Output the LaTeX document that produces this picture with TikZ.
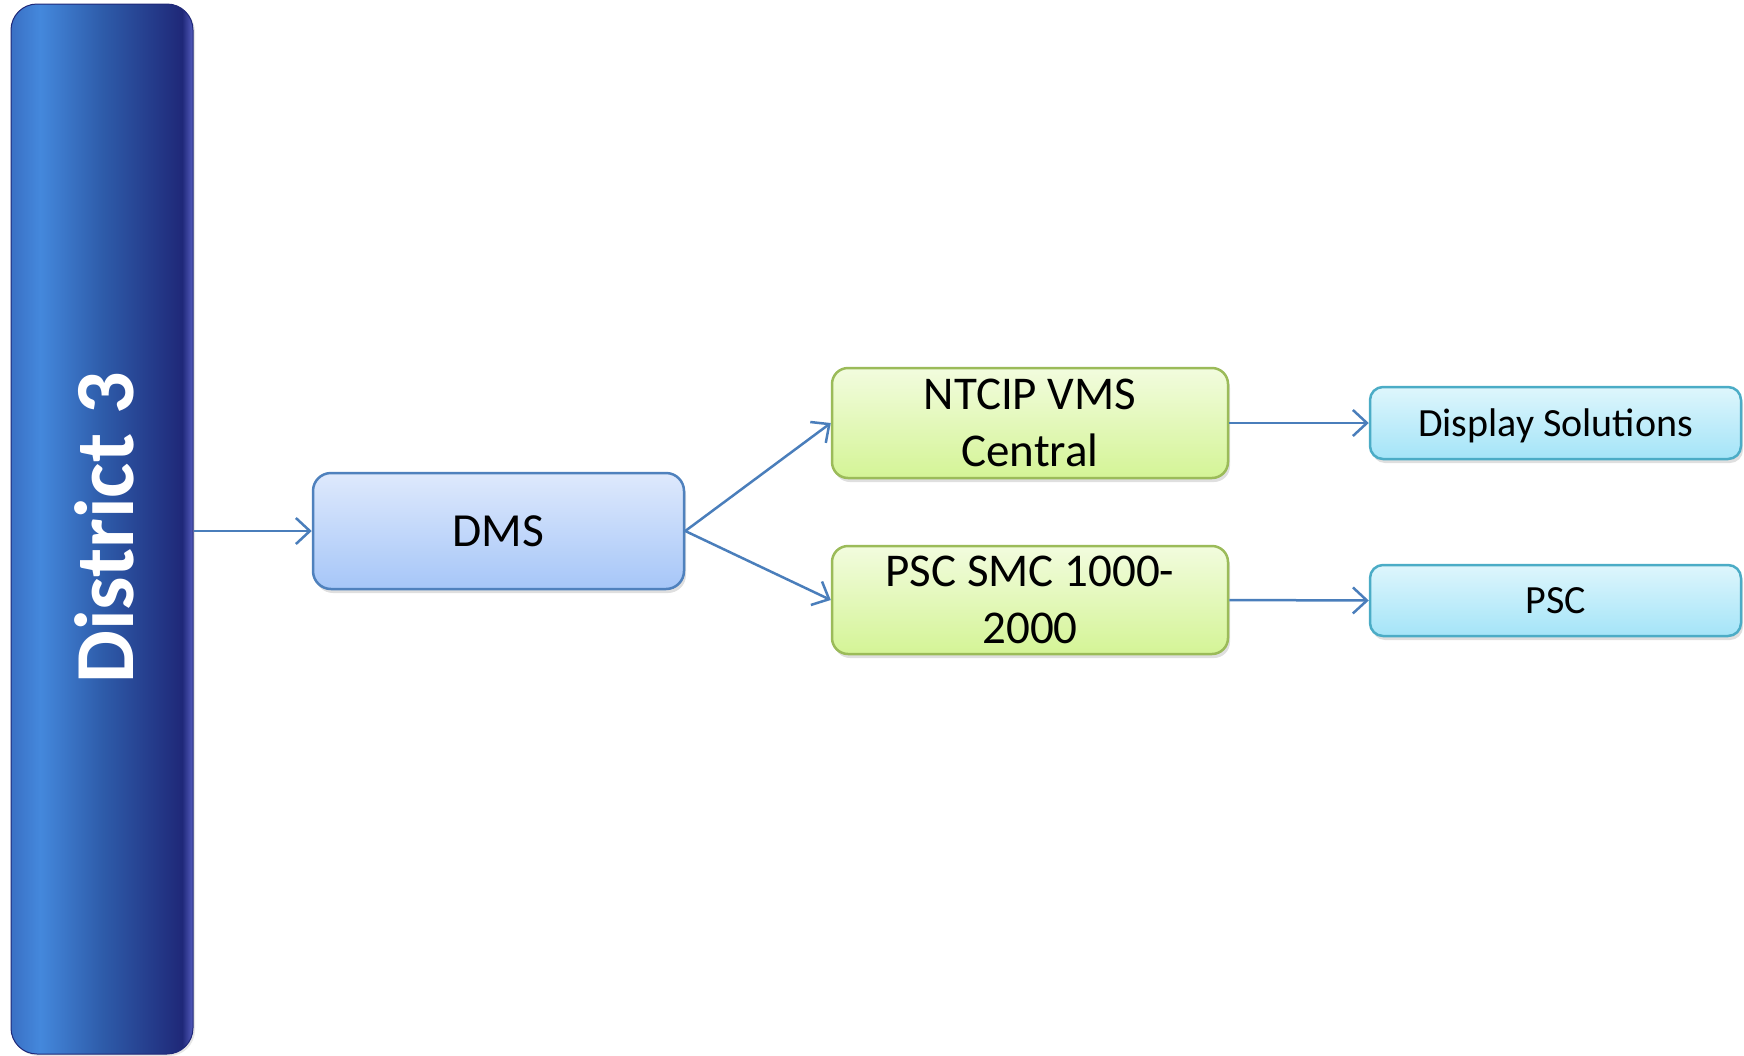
\documentclass[tikz,border=0pt]{standalone}
\usepackage{fontspec}
\setmainfont{Carlito}
\usetikzlibrary{arrows.meta,shadows}
\definecolor{barA}{RGB}{58,112,196}
\definecolor{barB}{RGB}{68,136,220}
\definecolor{barC}{RGB}{46,92,170}
\definecolor{barD}{RGB}{31,40,120}
\definecolor{barE}{RGB}{84,92,190}
\definecolor{arrowc}{RGB}{74,126,187}
\definecolor{dmsTop}{RGB}{222,233,252}
\definecolor{dmsBot}{RGB}{166,198,248}
\definecolor{dmsLine}{RGB}{79,129,189}
\definecolor{grTop}{RGB}{242,252,222}
\definecolor{grBot}{RGB}{212,244,150}
\definecolor{grLine}{RGB}{155,187,89}
\definecolor{cyTop}{RGB}{222,246,252}
\definecolor{cyBot}{RGB}{164,228,248}
\definecolor{cyLine}{RGB}{75,172,198}
\pgfdeclarehorizontalshading{barshade}{100bp}{color(0bp)=(barA); color(25bp)=(barA); color(33bp)=(barB); color(50bp)=(barC); color(72bp)=(barD); color(75bp)=(barE); color(100bp)=(barE)}
\tikzset{
  conn/.style={draw=arrowc, line width=2.5pt, -{Straight Barb[length=14pt,width=26pt,line width=2.5pt]}},
  sh/.style={drop shadow={opacity=0.25, shadow xshift=2pt, shadow yshift=-4pt}},
  dmsbox/.style={draw=dmsLine, line width=2.5pt, rounded corners=18pt, top color=dmsTop, bottom color=dmsBot, sh, inner sep=0pt, font=\fontsize{47.5}{56}\selectfont, align=center},
  greenbox/.style={draw=grLine, line width=2.5pt, rounded corners=16pt, top color=grTop, bottom color=grBot, sh, inner sep=0pt, font=\fontsize{47}{57}\selectfont, align=center, minimum width=396pt},
  cyanbox/.style={draw=cyLine, line width=2.5pt, rounded corners=13pt, top color=cyTop, bottom color=cyBot, sh, inner sep=0pt, font=\fontsize{40}{48}\selectfont, align=center, minimum width=371pt, text height=26pt, text depth=0pt},
  barbox/.style={draw=barD, line width=1pt, rounded corners=26pt, shading=barshade, drop shadow={opacity=0.2, shadow xshift=2pt, shadow yshift=-2pt}, inner sep=0pt, minimum width=182pt, minimum height=1050pt},
}
\begin{document}
\begin{tikzpicture}[x=1pt,y=-1pt]
\useasboundingbox (0,0) rectangle (1744,1055);
\node[barbox] (bar) at (102,529) {};
\node[rotate=90, text=white, font=\bfseries\fontsize{84}{90}\selectfont] (bartext) at (104,528) {District 3};
\node[dmsbox, minimum width=371pt, minimum height=116pt] (dms) at (498.5,531) {DMS};
\node[greenbox, minimum height=110pt] (ntcip) at (1030,423) {NTCIP VMS\\Central};
\node[greenbox, minimum height=108pt] (smc) at (1030,600) {PSC SMC 1000-\\2000};
\node[cyanbox, minimum height=72pt] (disp) at (1555.5,423) {Display Solutions};
\node[cyanbox, minimum height=71pt] (psc) at (1555.5,600.5) {PSC};
\draw[conn] (dms.west -| bar.east) -- (dms.west);
\draw[conn] (dms.east) -- (ntcip.west);
\draw[conn] (dms.east) -- (smc.west);
\draw[conn] (ntcip.east) -- (disp.west);
\draw[conn] (smc.east) -- (psc.west);
\end{tikzpicture}
\end{document}
